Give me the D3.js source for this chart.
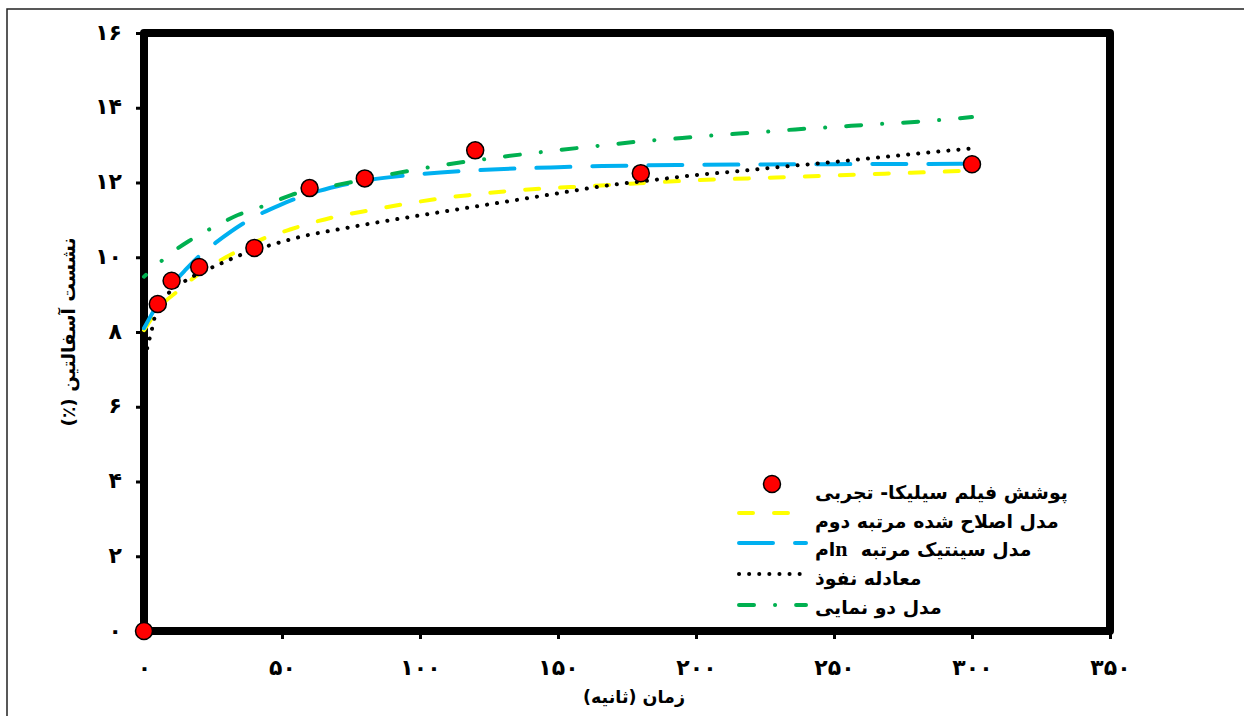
<!DOCTYPE html>
<html><head><meta charset="utf-8">
<script src="https://cdn.jsdelivr.net/npm/d3@7"></script>
<style>
html,body{margin:0;padding:0;background:#fff;}
svg{display:block;}
text{font-family:"DejaVu Sans",sans-serif;font-weight:bold;fill:#000;}
</style></head>
<body>
<svg id="chart" width="1244" height="716"></svg>
<script>
// ---- data ----
const xTicks = [0, 50, 100, 150, 200, 250, 300, 350];
const xTickLabels = ["۰", "۵۰", "۱۰۰", "۱۵۰", "۲۰۰", "۲۵۰", "۳۰۰", "۳۵۰"];
const yTicks = [0, 2, 4, 6, 8, 10, 12, 14, 16];
const yTickLabels = ["۰", "۲", "۴", "۶", "۸", "۱۰", "۱۲", "۱۴", "۱۶"];

const expTime = [0, 5, 10, 20, 40, 60, 80, 120, 180, 300];
const expValue = [0, 8.75, 9.37, 9.74, 10.25, 11.85, 12.11, 12.86, 12.25, 12.49];

const secondOrderTime = [0, 7, 12, 18, 28, 34, 42, 45, 52, 58, 68, 82, 95, 107, 120, 132, 147, 161, 172, 184, 200, 219, 239, 258, 278, 300];
const secondOrderValue = [8.05, 8.77, 9.08, 9.45, 9.93, 10.17, 10.46, 10.55, 10.72, 10.86, 11.06, 11.26, 11.43, 11.57, 11.68, 11.77, 11.85, 11.9, 11.95, 12.0, 12.06, 12.11, 12.16, 12.21, 12.26, 12.32];

const nthOrderTime = [0, 5, 10, 15, 21, 26, 37, 43, 49, 55, 60, 70, 80, 100, 124, 150, 166, 200, 250, 300];
const nthOrderValue = [8.1, 8.75, 9.25, 9.66, 10.1, 10.39, 10.95, 11.19, 11.39, 11.57, 11.7, 11.9, 12.05, 12.22, 12.34, 12.41, 12.44, 12.47, 12.49, 12.5];

const diffusionTime = [0.3, 1, 1.9, 2.8, 3.6, 5, 8.8, 15, 25, 29, 32, 36, 47, 58, 70, 82, 100, 116, 133, 149, 166, 185, 200, 215, 231, 246, 261, 276, 291, 300];
const diffusionValue = [7.3, 7.52, 7.79, 8.05, 8.32, 8.6, 9.03, 9.37, 9.74, 9.87, 9.97, 10.09, 10.35, 10.57, 10.74, 10.9, 11.12, 11.31, 11.51, 11.7, 11.9, 12.07, 12.2, 12.3, 12.42, 12.52, 12.63, 12.74, 12.85, 12.91];

const dualTime = [0, 4, 10, 16, 21.5, 27.5, 34, 40, 46.6, 53.5, 60, 66, 80, 90, 107, 127, 147, 167, 180, 195, 208, 222, 236, 249, 263, 283, 300];
const dualValue = [9.48, 9.75, 10.12, 10.42, 10.66, 10.89, 11.13, 11.28, 11.47, 11.67, 11.8, 11.88, 12.08, 12.23, 12.45, 12.66, 12.84, 13.0, 13.1, 13.19, 13.27, 13.34, 13.42, 13.48, 13.55, 13.64, 13.75];

const legendLabels = ["پوشش فیلم سیلیکا- تجربی", "مدل اصلاح شده مرتبه دوم", "مدل سینتیک مرتبه\u00A0\u00A0", "معادله نفوذ", "مدل دو نمایی"];
const xTitle = "زمان (ثانیه)";
const yTitle = "نشست آسفالتین (٪)";

// ---- drawing ----
const svg = d3.select("#chart");
const x = d3.scaleLinear().domain([0, 350]).range([144, 1110]);
const y = d3.scaleLinear().domain([0, 16]).range([631, 33]);

// outer border
svg.append("rect").attr("x", 7).attr("y", 9).attr("width", 1250).attr("height", 720)
  .attr("fill", "none").attr("stroke", "#222").attr("stroke-width", 1.5);

// axes (ticks + labels)
const gy = svg.append("g").attr("transform", `translate(${x(0)},0)`)
  .call(d3.axisLeft(y).tickValues(yTicks).tickSize(8).tickPadding(14)
    .tickFormat((d, i) => yTickLabels[i]));
const gx = svg.append("g").attr("transform", `translate(0,${y(0)})`)
  .call(d3.axisBottom(x).tickValues(xTicks).tickSize(8).tickPadding(20)
    .tickFormat((d, i) => xTickLabels[i]));
[gy, gx].forEach(g => {
  g.select(".domain").remove();
  g.selectAll(".tick line").attr("stroke", "#000").attr("stroke-width", 3);
  g.selectAll(".tick text").style("font-size", "22px").style("font-family", "DejaVu Sans").style("font-weight", "bold");
});
gy.selectAll(".tick text").attr("dy", "0.28em");

// plot frame
svg.append("rect").attr("x", x(0)).attr("y", y(16))
  .attr("width", x(350) - x(0)).attr("height", y(0) - y(16))
  .attr("fill", "none").attr("stroke", "#000").attr("stroke-width", 8)
  .attr("stroke-linejoin", "round");

// titles
svg.append("text").attr("x", 634).attr("y", 703)
  .attr("text-anchor", "middle").attr("direction", "rtl").style("font-size", "17.5px").text(xTitle);
svg.append("text").attr("transform", `translate(75,${(y(0) + y(16)) / 2}) rotate(-90)`)
  .attr("text-anchor", "middle").attr("direction", "rtl").style("font-size", "18.5px").text(yTitle);

// series
const series = [
  {t: secondOrderTime, v: secondOrderValue, color: "#FFFF00", dash: "14 21", period: 35},
  {t: nthOrderTime, v: nthOrderValue, color: "#00B0F0", dash: "34 22", period: 56},
  {t: diffusionTime, v: diffusionValue, color: "#000000", dash: "0.1 10", period: 10.1},
  {t: dualTime, v: dualValue, color: "#00B050", dash: "15 21 0.1 21", period: 57.1}
];
const line = d3.line().x(d => x(d[0])).y(d => y(d[1])).curve(d3.curveMonotoneX);
series.forEach(s => {
  const p = svg.append("path").datum(s.t.map((t, i) => [t, s.v[i]]))
    .attr("d", line).attr("fill", "none").attr("stroke", s.color)
    .attr("stroke-width", 4).attr("stroke-linecap", "round")
    .attr("stroke-dasharray", s.dash);
  if (s.color === "#00B050") {
    // shift the pattern so that the line ends inside a dash
    const L = p.node().getTotalLength();
    const off = s.period - (L % s.period) + 12;
    p.attr("stroke-dashoffset", off);
  }
});

// experimental points
svg.append("g").selectAll("circle").data(expTime.map((t, i) => [t, expValue[i]]))
  .join("circle").attr("cx", d => x(d[0])).attr("cy", d => y(d[1])).attr("r", 8.5)
  .attr("fill", "#FF0000").attr("stroke", "#000").attr("stroke-width", 1.5);

// legend
const lg = svg.append("g");
const rowBase = [499, 528, 556, 585, 614];
const textLeft = 815;
lg.append("circle").attr("cx", 772).attr("cy", 484).attr("r", 8.5)
  .attr("fill", "#FF0000").attr("stroke", "#000").attr("stroke-width", 1.5);
const symY = [513, 543, 574, 605];
series.forEach((s, i) => {
  lg.append("line").attr("x1", 739).attr("x2", 806).attr("y1", symY[i]).attr("y2", symY[i])
    .attr("stroke", s.color).attr("stroke-width", 4).attr("stroke-linecap", "round")
    .attr("stroke-dasharray", s.dash);
});
legendLabels.forEach((lab, i) => {
  const t = lg.append("text").attr("x", textLeft).attr("y", rowBase[i])
    .attr("direction", "rtl").attr("text-anchor", "end").style("font-size", "18.9px");
  if (i === 2) {
    t.append("tspan").text(lab);
    t.append("tspan").style("font-family", "Liberation Serif").style("font-size", "22px").text("n");
    t.append("tspan").text("ام");
  } else {
    t.text(lab);
  }
});
</script>
</body></html>
